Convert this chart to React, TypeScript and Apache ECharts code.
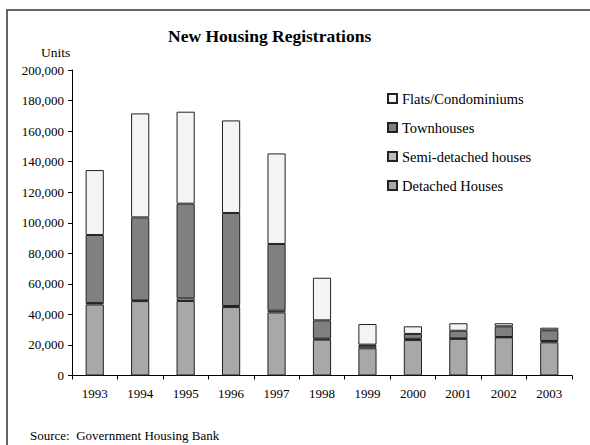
import React, { useEffect, useRef } from "react";
import * as echarts from "echarts";

const years = ["1993", "1994", "1995", "1996", "1997", "1998", "1999", "2000", "2001", "2002", "2003"];
const detached = [46500, 48700, 48800, 44800, 41300, 23500, 17800, 23200, 24000, 25000, 21700];
const semiDetached = [1000, 500, 1700, 700, 1100, 600, 1400, 800, 300, 200, 900];
const townhouses = [44500, 54300, 62000, 60900, 43700, 12000, 1000, 3200, 5000, 7000, 7000];
const flats = [42500, 68100, 60200, 60600, 59300, 27900, 13500, 5000, 4900, 2000, 1700];
const legendOrder = ["Flats/Condominiums", "Townhouses", "Semi-detached houses", "Detached Houses"];

const FONT = "Liberation Serif";

export default function App() {
  const ref = useRef<HTMLDivElement>(null);
  useEffect(() => {
    document.body.style.margin = "0";
    const chart = echarts.init(ref.current!, null, { renderer: "svg" });
    const mk = (name: string, data: number[], color: string) => ({
      name,
      type: "bar",
      stack: "total",
      data,
      barWidth: "40%",
      itemStyle: { color, borderColor: "#222", borderWidth: 1 },
    });
    chart.setOption({
      animation: false,
      textStyle: { fontFamily: FONT },
      title: {
        text: "New Housing Registrations",
        left: 163,
        top: 22,
        textStyle: { fontFamily: FONT, fontSize: 17.5, fontWeight: "bold", color: "#000" },
      },
      legend: {
        data: legendOrder,
        orient: "vertical",
        left: 382,
        top: 86,
        itemWidth: 9,
        itemHeight: 9,
        itemGap: 14,
        icon: "rect",
        textStyle: { fontFamily: FONT, fontSize: 14.5, color: "#000" },
        selectedMode: false,
      },
      graphic: [
        {
          type: "rect",
          shape: { x: 7, y: 10, width: 640, height: 480 },
          style: { fill: "none", stroke: "#333", lineWidth: 1.5 },
          silent: true,
        },
        {
          type: "text",
          left: 41,
          top: 45,
          style: { text: "Units", fontFamily: FONT, fontSize: 13.5, fill: "#000" },
        },
        {
          type: "text",
          left: 30,
          top: 429,
          style: { text: "Source:  Government Housing Bank", fontFamily: FONT, fontSize: 13, fill: "#000" },
        },
      ],
      grid: { left: 72, right: 18, top: 70, bottom: 69.5, containLabel: false },
      xAxis: {
        type: "category",
        data: years,
        axisLine: { lineStyle: { color: "#000", width: 1 } },
        axisTick: { show: true, length: 4, lineStyle: { color: "#000" } },
        axisLabel: { fontFamily: FONT, fontSize: 13, color: "#000", margin: 11 },
      },
      yAxis: {
        type: "value",
        min: 0,
        max: 200000,
        interval: 20000,
        axisLine: { show: true, lineStyle: { color: "#000", width: 1 } },
        axisTick: { show: true, length: 4, lineStyle: { color: "#000" } },
        splitLine: { show: false },
        axisLabel: {
          fontFamily: FONT,
          fontSize: 13,
          color: "#000",
          margin: 8,
          formatter: (v: number) => v.toLocaleString("en-US"),
        },
      },
      series: [
        mk("Detached Houses", detached, "#a8a8a8"),
        mk("Semi-detached houses", semiDetached, "#bcbcbc"),
        mk("Townhouses", townhouses, "#808080"),
        mk("Flats/Condominiums", flats, "#f4f4f4"),
      ],
    });
    return () => chart.dispose();
  }, []);
  return <div ref={ref} style={{ width: 590, height: 445 }} />;
}
